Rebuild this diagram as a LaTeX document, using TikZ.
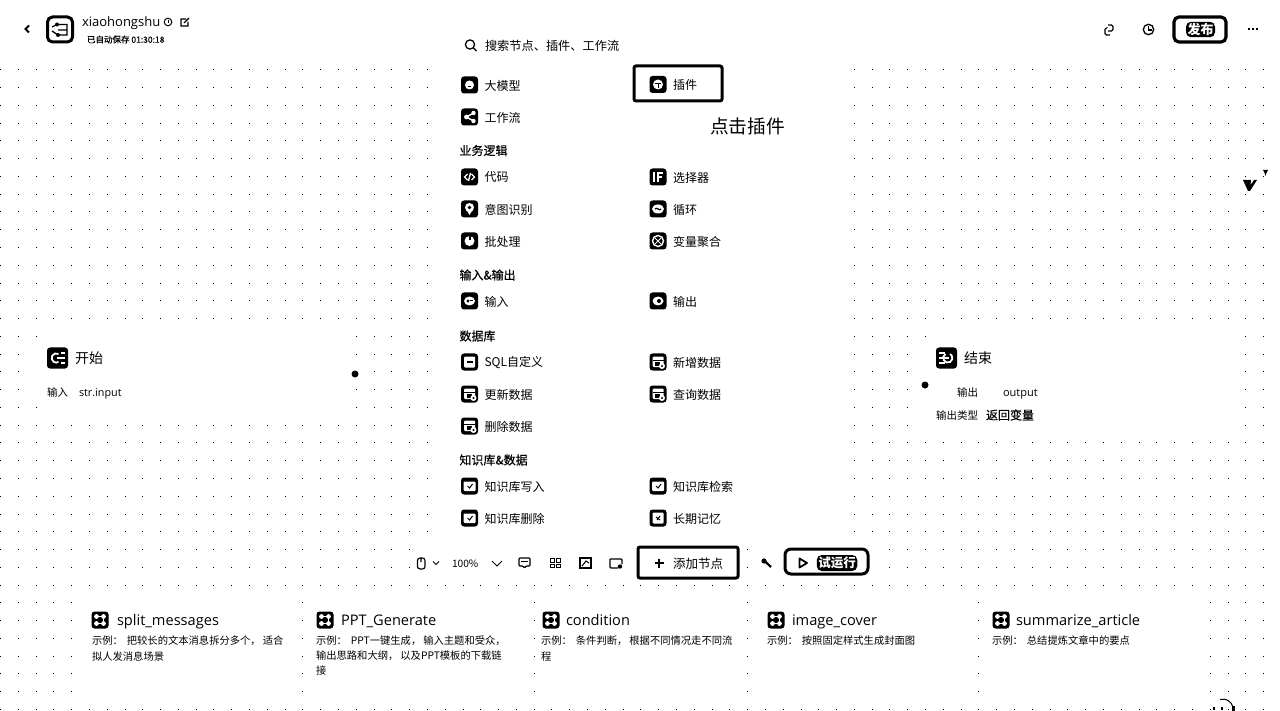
\documentclass[tikz,border=0pt]{standalone}
\usepackage{fontspec}
\setmainfont{Noto Sans CJK SC}
\newfontfamily\latinfnt{Open Sans}
\newfontfamily\medfnt[FakeBold=0.35]{Noto Sans CJK SC}
\newcommand{\fsz}[1]{\fontsize{#1}{#1}\selectfont}
\newcommand{\qp}[1]{\makebox[1em][l]{#1}\hspace{2pt}}
\newcommand{\qc}[1]{\makebox[1em][l]{#1}\hspace{4pt}}
\tikzset{
  lbl/.style={anchor=west,inner sep=0pt,outer sep=0pt,text=black,font=\fsz{12}},
  head/.style={lbl,font=\medfnt\fsz{12}},
  desc/.style={lbl,font=\fsz{10.3}},
  cardtitle/.style={anchor=base west,inner sep=0pt,outer sep=0pt,text=black,font=\latinfnt\fsz{14.6}},
  basetxt/.style={anchor=base west,inner sep=0pt,outer sep=0pt,text=black},
  icobox/.style={inner sep=0pt,outer sep=0pt,minimum size=17,fill=black,rounded corners=3,draw=none},
  wg/.style={fill=white,draw=none},
  wl/.style={draw=white,line width=1.4,fill=none},
  bl/.style={draw=black,line width=1.3,fill=none},
  framebox/.style={draw=black,line width=3,rounded corners=2,fill=none,inner sep=0pt,outer sep=0pt},
  blob/.style={fill=black,text=white,rounded corners=5,inner sep=1.5pt,outer sep=0pt,font=\fsz{13}\bfseries},
  port/.style={circle,fill=black,inner sep=0pt,minimum size=7,outer sep=0pt},
}
\newcommand{\ico}[4]{%
  \node[icobox] (#1) at (#2,#3) {};
  \begin{scope}[shift={(#2,#3)}] #4 \end{scope}}
\newcommand{\gbot}{\fill[wg] (0,0) circle (4.5); \fill[black] (-1.5,1) rectangle (1.5,2);}
\newcommand{\gflow}{\fill[wg] (4,-4) circle (2.2); \fill[wg] (4,4) circle (2.2); \fill[wg] (-3,0) circle (2.4); \draw[wl] (-3,0)--(4,-4) (-3,0)--(4,4);}
\newcommand{\gplug}{\fill[wg] (0,0) circle (5); \draw[black,line width=1] (-3,-1)--(3,-1) (0,-1)--(0,4);}
\newcommand{\gcode}{\draw[wl] (-2,-3)--(-5,0)--(-2,3) (2,-3)--(5,0)--(2,3) (1,-4)--(-1,4);}
\newcommand{\gif}{\fill[wg] (-5,-5) rectangle (-3,5); \fill[wg] (-1,-5) rectangle (1,5); \fill[wg] (-1,-5) rectangle (5,-3); \fill[wg] (-1,-1) rectangle (4,1);}
\newcommand{\gpin}{\fill[wg] (0,-1.5) circle (4.5); \fill[wg] (-3,1)--(3,1)--(0,6)--cycle; \fill[black] (0,-1.5) circle (1.8);}
\newcommand{\gloop}{\fill[wg] (0,0) ellipse (6 and 4.5); \draw[black,line width=1.2] (-3,0) .. controls (-1.5,-2.5) and (1.5,2.5) .. (3,0);}
\newcommand{\gbatch}{\fill[wg] (0,0) circle (5); \fill[black] (-1,-5) rectangle (1,-1);}
\newcommand{\gvar}{\draw[wl] (0,0) circle (5.5); \draw[white,line width=1] (-3,-3)--(3,3) (3,-3)--(-3,3);}
\newcommand{\gin}{\fill[wg] (0,0) ellipse (5.5 and 4.5); \fill[black] (-1.5,0) circle (1.6); \draw[black,line width=1] (0,0)--(3,0);}
\newcommand{\gout}{\fill[wg] (0,0) ellipse (5.5 and 4.5); \fill[black] (1,0) circle (2);}
\newcommand{\gsql}{\fill[wg,rounded corners=1] (-5.5,-5.5) rectangle (5.5,5.5); \fill[black] (-3,-1) rectangle (3,0.5);}
\newcommand{\gdb}{\fill[wg,rounded corners=1] (-5.5,-5.5) rectangle (5.5,5); \fill[black] (-5.5,-2.5) rectangle (5.5,-1.5); \fill[black] (-3,0) rectangle (2,4);\fill[wg] (4,4) circle (3);\fill[black] (4,4) circle (1.2);}
\newcommand{\gkb}{\fill[wg,rounded corners=1] (-6,-4.5) rectangle (6,5); \draw[black,line width=1] (-2,0)--(0,2)--(3,-2);}
\newcommand{\gmem}{\fill[wg,rounded corners=1] (-5.5,-5.5) rectangle (5.5,5.5); \draw[black,line width=1] (-2,-1)--(2,2) (2,-2)--(-1,2);}
\newcommand{\gcard}{\fill[wg] (-3.5,-3.5) circle (2.4); \fill[wg] (3.5,-3.5) circle (2.4); \fill[wg] (-3.5,3.5) circle (2.4); \fill[wg] (3.5,3.5) circle (2.4); \draw[wl] (-3.5,-3.5)--(3.5,-3.5)--(3.5,3.5)--(-3.5,3.5);}
\begin{document}
\begin{tikzpicture}[x=1pt,y=-1pt]
\useasboundingbox (0,0) rectangle (1280,711);
\fill[white] (0,0) rectangle (1280,711);
% dot grid
\foreach \k in {0,...,72}{\foreach \j in {0,...,36}{
  \fill[black] ({round(\k*17.79)},{round(69.3+\j*17.77)}) rectangle +(1.2,1);}}
% panels hiding the grid
\fill[white] (441,55) rectangle (840,542);
\fill[white] (40,330) rectangle (350,412);
\fill[white] (28,345) rectangle (350,398);
\fill[white] (915,345) rectangle (1240,432);
\fill[white] (935,330) rectangle (1240,345);
\fill[white] (410,540) rectangle (742,578);
\fill[white] (754,540) rectangle (875,578);
\foreach \a/\b in {78/298,310/530,540/742,752/974,985/1205}{\fill[white] (\a,596) rectangle (\b,700);}
% top bar
\node[inner sep=0pt] (backbtn) at (27,29) {};
\draw[black,line width=1.8] (29,25.5)--(25.5,29)--(29,32.5);
\node[draw=black,line width=3,rounded corners=5,minimum size=25,inner sep=0pt] (logo) at (60,29.5) {};
\draw[black,line width=1.3] (52,27)--(57,24.5)--(67,24.5)--(67,35)--(58,35)--(52,31) (58,30)--(67,30);
\fill[black] (57,24.5) circle (2); \fill[black] (58,35) circle (2);
\node[basetxt,font=\latinfnt\fsz{13}] (title) at (82,26.5) {xiaohongshu};
\node[inner sep=0pt] (infoi) at (168,22) {};
\draw[bl,line width=1] (168,22) circle (3.8); \draw[black,line width=1] (168,20)--(168,23);
\draw[black,line width=1.1] (186,19)--(181,19)--(181,26)--(188,26)--(188,22) (184,23)--(189,18);
\node[lbl,font=\medfnt\fsz{8.5}] (saved) at (87,39.5) {已自动保存 01:30:18};
\draw[black,line width=1.1,rounded corners=1.5] (1106,28)--(1105,28)--(1105,35)--(1110,35) (1108,31)--(1113,31)--(1113,25)--(1108,25);
\draw[bl] (1148.5,29.5) circle (5.2); \draw[black,line width=1.3] (1148.5,26.5)--(1148.5,30)--(1152,30);
\node[framebox,line width=3.2,rounded corners=5,minimum width=52,minimum height=25] (pub) at (1200,29.5) {};
\node[blob,minimum width=29,minimum height=15] (pubt) at (1200.5,29.5) {发布};
\foreach \p in {1247.5,1251.5,1255.5}{\fill[black] (\p,28.5) rectangle +(2,2);}
% search
\draw[black,line width=1.3] (470,44.5) circle (4.6) (473.5,48)--(476.5,51);
\node[lbl,font=\fsz{12.2}] (search) at (485,45.5) {搜索节点、插件、工作流};
% panel items
\node[framebox,minimum width=88,minimum height=35] (plugbox) at (678,83.5) {};
\node[lbl,font=\fsz{18.7}] (clickt) at (710,126) {点击插件};
\ico{i1}{469.5}{85}{\gbot}\node[lbl] (t1) at (484.5,85.5) {大模型};
\ico{i2}{658}{84.5}{\gplug}\node[lbl] (t2) at (673,85) {插件};
\ico{i3}{469.5}{117}{\gflow}\node[lbl] (t3) at (484.5,117.5) {工作流};
\node[head] (h1) at (459.5,150.5) {业务逻辑};
\ico{i4}{469.5}{177}{\gcode}\node[lbl] (t4) at (484.5,177.5) {代码};
\ico{i5}{658}{177}{\gif}\node[lbl] (t5) at (673,177.5) {选择器};
\ico{i6}{469.5}{209}{\gpin}\node[lbl] (t6) at (484.5,209.5) {意图识别};
\ico{i7}{658}{209}{\gloop}\node[lbl] (t7) at (673,209.5) {循环};
\ico{i8}{469.5}{241}{\gbatch}\node[lbl] (t8) at (484.5,241.5) {批处理};
\ico{i9}{658}{241}{\gvar}\node[lbl] (t9) at (673,241.5) {变量聚合};
\node[head] (h2) at (459.5,275) {输入\&输出};
\ico{i10}{469.5}{301}{\gin}\node[lbl] (t10) at (484.5,301.5) {输入};
\ico{i11}{658}{301}{\gout}\node[lbl] (t11) at (673,301.5) {输出};
\node[head] (h3) at (459.5,336) {数据库};
\ico{i12}{469.5}{362}{\gsql}\node[lbl] (t12) at (484.5,363) {SQL自定义};
\ico{i13}{658}{362}{\gdb}\node[lbl] (t13) at (673,362.5) {新增数据};
\ico{i14}{469.5}{394}{\gdb}\node[lbl] (t14) at (484.5,394.5) {更新数据};
\ico{i15}{658}{394}{\gdb}\node[lbl] (t15) at (673,394.5) {查询数据};
\ico{i16}{469.5}{426}{\gdb}\node[lbl] (t16) at (484.5,426.5) {删除数据};
\node[head] (h4) at (459.5,460) {知识库\&数据};
\ico{i17}{469.5}{486}{\gkb}\node[lbl] (t17) at (484.5,486.5) {知识库写入};
\ico{i18}{658}{486}{\gkb}\node[lbl] (t18) at (673,486.5) {知识库检索};
\ico{i19}{469.5}{518}{\gkb}\node[lbl] (t19) at (484.5,518.5) {知识库删除};
\ico{i20}{658}{518}{\gmem}\node[lbl] (t20) at (673,518.5) {长期记忆};
% start / end nodes
\node[icobox,minimum size=21] (st) at (57.5,358) {};
\begin{scope}[shift={(57.5,358)}]
\draw[wl,line width=1.8] (1,-4) arc (-60:-300:4.6); \draw[wl] (-1,0)--(7.5,0) (3,-5)--(7.5,-5) (3,5)--(7.5,5);
\end{scope}
\node[lbl,font=\fsz{14}] (stt) at (75,358.5) {开始};
\node[lbl,font=\fsz{10.5}] (sti) at (47,392.5) {输入};
\node[basetxt,font=\latinfnt\fsz{10.8}] (stv) at (79,396) {str.input};
\node[port] (pa) at (355,374) {};
\node[icobox,minimum size=21] (en) at (946.5,358) {};
\begin{scope}[shift={(946.5,358)}]
\draw[wl,line width=1.8] (-1,-4) arc (240:-60:4.6); \draw[wl] (-7.5,0)--(2,0) (-7.5,-5)--(-2,-5) (-7.5,5)--(-2,5);
\end{scope}
\node[lbl,font=\fsz{14}] (ent) at (964,358.5) {结束};
\node[port] (pb) at (925,385) {};
\node[lbl,font=\fsz{10.5}] (eno) at (957,392) {输出};
\node[basetxt,font=\latinfnt\fsz{11}] (env) at (1003,396) {output};
\node[lbl,font=\fsz{10.5}] (enk) at (936,415) {输出类型};
\node[lbl,font=\medfnt\fsz{12}] (enr) at (986,415) {返回变量};
% stray marks right
\fill[black] (1243,180)--(1251,180)--(1250.5,185)--(1254,180)--(1257,180)--(1250,191)--(1248,191)--cycle;
\fill[black] (1263,170)--(1268,170)--(1266,174)--(1265.5,176)--(1265,174)--cycle;
\draw[black,line width=1] (1220,699.5) .. controls (1226,698) and (1231,701) .. (1233,707);
\fill[black] (1232,706) rectangle (1235,711);
\fill[black] (1213,707) rectangle +(1.5,3);\fill[black] (1220.5,707) rectangle +(2,3);
% toolbar
\draw[bl,line width=1.1,rounded corners=2.5] (417.5,558)--(425,558)--(425,569)--(417.5,569)--cycle (421,558)--(421,562);
\draw[black,line width=1] (433,561.5)--(436,564.5)--(439,561.5);
\node[lbl,font=\fsz{10.2}] (zoomt) at (452,563.5) {100\%};
\draw[black,line width=1] (492,561)--(497,566)--(502,561);
\draw[bl,rounded corners=1] (519,558)--(530,558)--(530,566)--(526,566)--(524.5,568)--(523,566)--(519,566)--cycle;
\fill[black] (521,561) rectangle (528,562);
\foreach \a/\b in {550.5/558.5,556.5/558.5,550.5/564,556.5/564}{\draw[black,line width=1] (\a,\b) rectangle +(3.8,3.8);}
\draw[bl] (580,558)--(591,558)--(591,568)--(580,568)--cycle; \draw[black,line width=1.1] (582,566)--(586,561)--(589,563);
\draw[bl,rounded corners=1] (610,559)--(622,559)--(622,564) (618,568)--(610,568)--(610,559); \fill[black] (620,566.5) circle (2.2);
\node[framebox,minimum width=100,minimum height=31] (addbox) at (688,562.5) {};
\draw[black,line width=1.5] (654.5,563)--(663.5,563) (659,558.5)--(659,567.5);
\node[lbl,font=\fsz{12.5}] (addt) at (673,563.5) {添加节点};
\draw[black,line width=2.2] (763,559.5)--(771,567);
\fill[black] (764,561) circle (2.6);
\node[framebox,rounded corners=6,minimum width=83,minimum height=25] (runb) at (826.5,561.5) {};
\draw[black,line width=1.8,line join=round] (799.5,558.5)--(807,563)--(799.5,567.5)--cycle;
\node[blob,font=\fsz{12.5}\bfseries,minimum width=40,minimum height=16] (runt) at (837,563) {试运行};
% cards
\ico{c1}{100}{620}{\gcard}\node[cardtitle] (ct1) at (117,625.3) {split\_messages};
\node[desc] (d11) at (92,641) {示例\qc{：}把较长的文本消息拆分多个\qp{，}适合};
\node[desc] (d12) at (92,657) {拟人发消息场景};
\ico{c2}{325}{620}{\gcard}\node[cardtitle] (ct2) at (341,625.3) {PPT\_Generate};
\node[desc] (d21) at (316,641) {示例\qc{：}PPT一键生成\qp{，}输入主题和受众\qp{，}};
\node[desc] (d22) at (316,656) {输出思路和大纲\qp{，}以及PPT模板的下载链};
\node[desc] (d23) at (316,671) {接};
\ico{c3}{551}{620}{\gcard}\node[cardtitle] (ct3) at (566,625.3) {condition};
\node[desc] (d31) at (541,641) {示例\qc{：}条件判断\qp{，}根据不同情况走不同流};
\node[desc] (d32) at (541,657) {程};
\ico{c4}{776}{620}{\gcard}\node[cardtitle] (ct4) at (792,625.3) {image\_cover};
\node[desc] (d41) at (767,641) {示例\qc{：}按照固定样式生成封面图};
\ico{c5}{1001}{620}{\gcard}\node[cardtitle] (ct5) at (1016,625.3) {summarize\_article};
\node[desc] (d51) at (992,641) {示例\qc{：}总结提炼文章中的要点};
\end{tikzpicture}
\end{document}
